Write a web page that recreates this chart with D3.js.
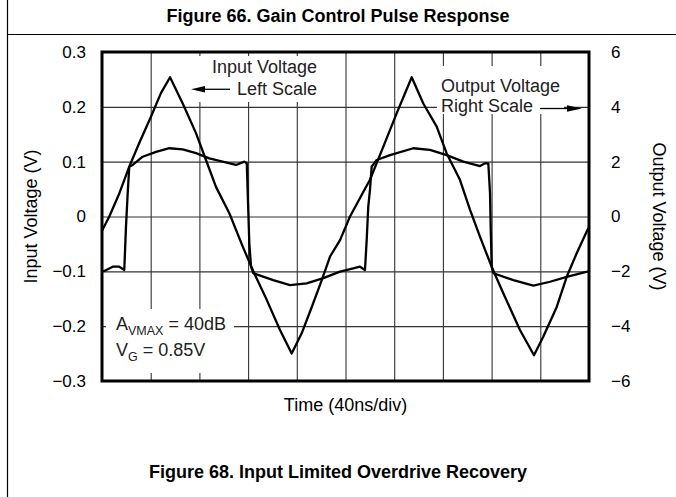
<!DOCTYPE html>
<html>
<head>
<meta charset="utf-8">
<script src="https://cdn.jsdelivr.net/npm/d3@7"></script>
<style>
  html, body { margin: 0; padding: 0; background: #fff; }
  svg { display: block; font-family: "Liberation Sans", Arial, Helvetica, sans-serif; }
</style>
</head>
<body>
<svg id="chart" width="676" height="497"></svg>
<script>
// Time axis: 10 divisions of 40 ns
const timeTicks = [0, 40, 80, 120, 160, 200, 240, 280, 320, 360, 400];
const leftTicks = [-0.3, -0.2, -0.1, 0, 0.1, 0.2, 0.3];
const leftTickLabels = ["\u22120.3", "\u22120.2", "\u22120.1", "0", "0.1", "0.2", "0.3"];
const rightTicks = [-6, -4, -2, 0, 2, 4, 6];
const rightTickLabels = ["\u22126", "\u22124", "\u22122", "0", "2", "4", "6"];

// Input voltage (left scale, V) vs time (ns)
const inputT = [0, 6.0, 14.2, 22.4, 30.6, 40.2, 48.4, 55.9, 66.3, 77.2, 85.4, 93.6, 104.6, 115.6, 125.1,
  135.3, 146.2, 155.8, 164.0, 172.3, 180.5, 187.3, 195.5, 203.7, 214.7, 220.1, 231.0, 242.0, 254.4,
  263.9, 274.9, 283.1, 294.0, 302.3, 310.5, 320.1, 329.6, 343.3, 354.8, 362.5, 373.5, 381.7, 389.9, 398.6, 400];
const inputV = [-0.026, 0.000, 0.042, 0.091, 0.134, 0.182, 0.225, 0.254, 0.206, 0.152, 0.103, 0.054, 0.006, -0.055, -0.104,
  -0.152, -0.207, -0.250, -0.213, -0.165, -0.116, -0.073, -0.043, 0.000, 0.045, 0.067, 0.127, 0.188, 0.254,
  0.206, 0.164, 0.115, 0.067, 0.012, -0.037, -0.092, -0.140, -0.207, -0.253, -0.219, -0.165, -0.110, -0.067, -0.025, -0.019];

// Output voltage (right scale, V) vs time (ns)
const outputT = [0, 1.9, 8.8, 14.2, 18.3, 19.7, 21.1, 22.4, 25.2, 33.4, 44.4, 55.3, 66.3, 77.2, 88.1, 99.1, 110.1,
  116.9, 118.9, 119.7, 121.0, 122.4, 124.3, 140.7, 154.4, 168.1, 181.8, 195.5, 206.4, 211.9, 216.0, 217.4,
  218.7, 220.1, 221.5, 225.6, 236.6, 255.7, 269.4, 283.1, 296.8, 310.5, 314.6, 317.3, 318.7, 319.3, 320.1,
  321.5, 337.9, 354.3, 368.0, 381.7, 398.6, 400];
const outputV = [-1.99, -1.99, -1.83, -1.83, -1.95, -0.37, 0.85, 1.82, 1.88, 2.18, 2.36, 2.49, 2.45, 2.31, 2.12, 2.00, 1.88,
  2.00, 1.94, 0.85, -0.98, -1.83, -2.07, -2.32, -2.50, -2.44, -2.25, -2.01, -1.89, -1.83, -1.95, -0.86,
  0.36, 0.97, 1.82, 2.06, 2.24, 2.49, 2.43, 2.24, 2.00, 1.84, 1.94, 1.94, 0.85, -0.49, -1.83,
  -2.07, -2.32, -2.52, -2.38, -2.20, -2.01, -1.99];

const svg = d3.select("#chart");
const W = 676, H = 497;
const plot = { left: 102, right: 589, top: 52, bottom: 381 };

const x = d3.scaleLinear().domain([0, 400]).range([plot.left, plot.right]);
const yL = d3.scaleLinear().domain([-0.3, 0.3]).range([plot.bottom, plot.top]);
const yR = d3.scaleLinear().domain([-6, 6]).range([plot.bottom, plot.top]);

// Page frame: left rule and the rule under the title
svg.append("line").attr("x1", 7.5).attr("x2", 7.5).attr("y1", 0).attr("y2", H)
  .attr("stroke", "#000").attr("stroke-width", 1.2);
svg.append("line").attr("x1", 7.5).attr("x2", W).attr("y1", 34.5).attr("y2", 34.5)
  .attr("stroke", "#000").attr("stroke-width", 1.2);

svg.append("text").attr("x", 338).attr("y", 22).attr("text-anchor", "middle")
  .attr("font-size", 18).attr("font-weight", "bold").text("Figure 66. Gain Control Pulse Response");

// Grid
const grid = svg.append("g");
grid.append("g").attr("transform", `translate(0,${plot.bottom})`)
  .call(d3.axisBottom(x).tickValues(timeTicks.slice(1, -1)).tickSize(-(plot.bottom - plot.top)).tickFormat(""))
  .call(g => g.select(".domain").remove());
grid.append("g").attr("transform", `translate(${plot.left},0)`)
  .call(d3.axisLeft(yL).tickValues(leftTicks.slice(1, -1)).tickSize(-(plot.right - plot.left)).tickFormat(""))
  .call(g => g.select(".domain").remove());
grid.selectAll(".tick line").attr("stroke", "#333").attr("stroke-width", 1.1);

// Tick labels
const leftAxis = svg.append("g").attr("transform", `translate(${plot.left},0)`)
  .call(d3.axisLeft(yL).tickValues(leftTicks).tickSize(0).tickPadding(16)
    .tickFormat((d, i) => leftTickLabels[i]));
const rightAxis = svg.append("g").attr("transform", `translate(${plot.right},0)`)
  .call(d3.axisRight(yR).tickValues(rightTicks).tickSize(0).tickPadding(22)
    .tickFormat((d, i) => rightTickLabels[i]));
[leftAxis, rightAxis].forEach(a => {
  a.select(".domain").remove();
  a.selectAll("text").attr("font-size", 17).attr("fill", "#000")
    .attr("font-family", "'Liberation Sans', Arial, Helvetica, sans-serif");
});

// White backing behind annotation blocks
svg.append("rect").attr("x", 187).attr("y", 56).attr("width", 135).attr("height", 46).attr("fill", "#fff");
svg.append("rect").attr("x", 437).attr("y", 66).attr("width", 127).attr("height", 48).attr("fill", "#fff");
svg.append("rect").attr("x", 106).attr("y", 309).attr("width", 128).attr("height", 64).attr("fill", "#fff");

// Traces
const line = (ys) => d3.line().x(d => x(d[0])).y(d => ys(d[1]));
svg.append("path").datum(inputT.map((t, i) => [t, inputV[i]]))
  .attr("d", line(yL)).attr("fill", "none").attr("stroke", "#000")
  .attr("stroke-width", 2.3).attr("stroke-linejoin", "round").attr("stroke-linecap", "round");
svg.append("path").datum(outputT.map((t, i) => [t, outputV[i]]))
  .attr("d", line(yR)).attr("fill", "none").attr("stroke", "#000")
  .attr("stroke-width", 2.3).attr("stroke-linejoin", "round").attr("stroke-linecap", "round");

// Plot frame
svg.append("rect").attr("x", plot.left).attr("y", plot.top)
  .attr("width", plot.right - plot.left).attr("height", plot.bottom - plot.top)
  .attr("fill", "none").attr("stroke", "#000").attr("stroke-width", 3);

// Annotations
const ann = svg.append("g").attr("font-size", 18).attr("fill", "#222");
ann.append("text").attr("x", 317).attr("y", 73).attr("text-anchor", "end").text("Input Voltage");
ann.append("text").attr("x", 317).attr("y", 95).attr("text-anchor", "end").text("Left Scale");
ann.append("text").attr("x", 441).attr("y", 92).text("Output Voltage");
ann.append("text").attr("x", 441).attr("y", 112).text("Right Scale");

// Scale arrows
svg.append("line").attr("x1", 230).attr("x2", 200).attr("y1", yL(0.232)).attr("y2", yL(0.232))
  .attr("stroke", "#000").attr("stroke-width", 1.3);
svg.append("path").attr("d", `M191,${yL(0.232)} l14,-3.2 l0,6.4 z`).attr("fill", "#000");
svg.append("line").attr("x1", 540).attr("x2", 572).attr("y1", 108.5).attr("y2", 108.5)
  .attr("stroke", "#000").attr("stroke-width", 1.3);
svg.append("path").attr("d", "M582,108.5 l-15,-3.2 l0,6.4 z").attr("fill", "#000");

// Test conditions
const cond = svg.append("g").attr("font-size", 18).attr("fill", "#222");
const t1 = cond.append("text").attr("x", 116).attr("y", 330);
t1.append("tspan").text("A");
t1.append("tspan").attr("font-size", 12.5).attr("dy", 5).text("VMAX");
t1.append("tspan").attr("dy", -5).text(" = 40dB");
const t2 = cond.append("text").attr("x", 116).attr("y", 356);
t2.append("tspan").text("V");
t2.append("tspan").attr("font-size", 12.5).attr("dy", 5).text("G");
t2.append("tspan").attr("dy", -5).text(" = 0.85V");

// Axis titles
svg.append("text").attr("transform", `translate(31,${(plot.top + plot.bottom) / 2}) rotate(-90)`)
  .attr("text-anchor", "middle").attr("dy", "0.35em").attr("font-size", 18).text("Input Voltage (V)");
svg.append("text").attr("transform", `translate(659,${(plot.top + plot.bottom) / 2}) rotate(90)`)
  .attr("text-anchor", "middle").attr("dy", "0.35em").attr("font-size", 18).text("Output Voltage (V)");
svg.append("text").attr("x", (plot.left + plot.right) / 2).attr("y", 411).attr("text-anchor", "middle")
  .attr("font-size", 18).text("Time (40ns/div)");

svg.append("text").attr("x", 338).attr("y", 478).attr("text-anchor", "middle")
  .attr("font-size", 18).attr("font-weight", "bold").text("Figure 68. Input Limited Overdrive Recovery");
</script>
</body>
</html>
